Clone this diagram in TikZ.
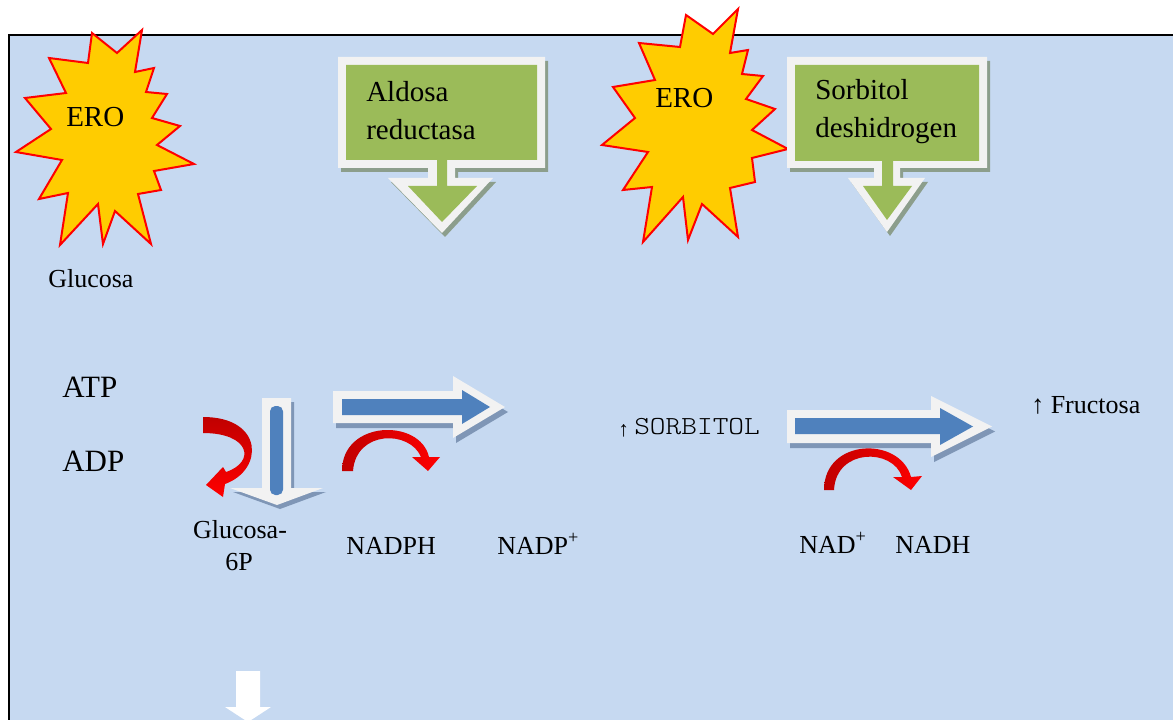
\documentclass[tikz,border=0pt]{standalone}
\usepackage{fontspec}
\setmainfont{Liberation Serif}
\newfontfamily\courfont{lmmonolt10-regular.otf}[FakeStretch=1.15]
\definecolor{bg}{HTML}{C6D9F1}
\definecolor{starfill}{HTML}{FFCC00}
\definecolor{calgreen}{HTML}{9BBB59}
\definecolor{calwhite}{HTML}{F2F2F2}
\definecolor{calshadow}{HTML}{8C9E8C}
\definecolor{arrblue}{HTML}{4F81BD}
\definecolor{arrshadow}{HTML}{7F96B6}
\definecolor{darkred}{HTML}{C00000}
\tikzset{
  starshape/.style={fill=starfill, draw=red, line width=1.5pt, line join=miter},
  lbl/.style={inner sep=0pt, anchor=base west, font=\fontsize{19.5}{23}\selectfont},
  lblc/.style={inner sep=0pt, anchor=base, font=\fontsize{19.5}{23}\selectfont},
  biglbl/.style={inner sep=0pt, anchor=base west, font=\fontsize{21.75}{26}\selectfont},
  huge lbl/.style={inner sep=0pt, anchor=base west, font=\fontsize{23.25}{28}\selectfont},
  redarrow/.style={left color=darkred, right color=red},
}
\begin{document}
\begin{tikzpicture}[x=0.75pt,y=-0.75pt]
\useasboundingbox (0,0) rectangle (1173,720);
\clip (0,0) rectangle (1173,720);
% frame
\draw[fill=bg, draw=black, line width=1.6pt] (9,35) rectangle (1190,740);

% stars
\draw[starshape] (92,33) -- (117,53) -- (142,30) -- (135,72) -- (154,68) -- (146,92) -- (167,94) -- (152,118) -- (180,126) -- (157,145) -- (194,164) -- (154,171) -- (161,190) -- (138,194) -- (151,244) -- (115,211) -- (103,244) -- (98,204) -- (60,245) -- (68,193) -- (39,199) -- (62,160) -- (16,152) -- (51,129) -- (25,98) -- (66,93) -- (49,58) -- (88,63) -- cycle;
\draw[starshape] (686,15) -- (713,34) -- (738,9) -- (730,53) -- (748,50) -- (742,74) -- (763,76) -- (746,99) -- (775,109) -- (752,130) -- (788,149) -- (752,158) -- (755,182) -- (730,188) -- (738,237) -- (702,204) -- (688,240) -- (683,197) -- (643,242) -- (652,187) -- (623,190) -- (648,152) -- (602,145) -- (635,118) -- (613,87) -- (655,80) -- (639,43) -- (680,47) -- cycle;
\node[biglbl] (ero1) at (66,127) {ERO};
\node[biglbl] (ero2) at (655,108) {ERO};

% callouts
\def\wone{(338,57) -- (545,57) -- (545,168) -- (455,168) -- (455,178) -- (493,178) -- (442,233) -- (388,178) -- (428,178) -- (428,168) -- (338,168) -- cycle}
\def\wtwo{(787,57) -- (987,57) -- (987,168) -- (900,168) -- (900,178) -- (925,178) -- (887,232) -- (848,178) -- (874,178) -- (874,168) -- (787,168) -- cycle}
\fill[calshadow, shift={(3,4)}] \wone;
\fill[calwhite] \wone;
\fill[calgreen] (346,65) -- (537,65) -- (537,160) -- (447,160) -- (447,186) -- (477,186) -- (442,222) -- (408,186) -- (437,186) -- (437,160) -- (346,160) -- cycle;
\fill[calshadow, shift={(3,4)}] \wtwo;
\fill[calwhite] \wtwo;
\fill[calgreen] (795,65) -- (979,65) -- (979,161) -- (893,161) -- (893,186) -- (912,186) -- (887,220) -- (863,186) -- (882,186) -- (882,161) -- (795,161) -- cycle;
\node[biglbl] (ald1) at (366,102) {Aldosa};
\node[biglbl] (ald2) at (366,140) {reductasa};
\node[biglbl] (sor1) at (815,100) {Sorbitol};
\node[biglbl] (sor2) at (815,138) {deshidrogen};

% blue block arrows
\def\hone{(333,391) -- (453,391) -- (453,376) -- (505,407) -- (453,438) -- (453,423) -- (333,423) -- cycle}
\def\htwo{(787,410) -- (931,410) -- (931,396) -- (992,426.5) -- (931,457) -- (931,443) -- (787,443) -- cycle}
\def\vone{(262,398) -- (291,398) -- (291,488) -- (323,488) -- (277,505) -- (230,488) -- (262,488) -- cycle}
\fill[arrshadow, shift={(3,5)}] \hone;
\fill[calwhite] \hone;
\fill[arrblue] (342,399) -- (462,399) -- (462,390) -- (490,407) -- (462,424) -- (462,415) -- (342,415) -- cycle;
\fill[arrshadow, shift={(3,5)}] \htwo;
\fill[calwhite] \htwo;
\fill[arrblue] (795,418) -- (940,418) -- (940,408) -- (973,426.5) -- (940,445) -- (940,434) -- (795,434) -- cycle;
\fill[arrshadow, shift={(3,4)}] \vone;
\fill[calwhite] \vone;
\fill[arrblue, rounded corners=4pt] (270,406) rectangle (283,495);
% bottom arrow
\fill[white] (236,671) -- (260,671) -- (260,707) -- (271,707) -- (248,722) -- (225,707) -- (236,707) -- cycle;

% red curved arrows
\shade[top color=darkred, bottom color=red] (203,417) .. controls (264,417) and (264,470) .. (225,484) -- (223,497) -- (206,485) -- (223,467) -- (226,472) .. controls (256,462) and (250,433) .. (203,433) -- cycle;
\shade[redarrow] (342,471) .. controls (342,420) and (420,418) .. (429,457) -- (440,457) -- (428,471) -- (412,457) -- (421,457) .. controls (410,430) and (356,430) .. (353,471) -- cycle;
\shade[redarrow] (824,490) .. controls (824,438) and (900,436) .. (911,477) -- (922,476) -- (911,490) -- (893,477) -- (902,477) .. controls (893,448) and (836,448) .. (834,490) -- cycle;

% labels
\node[lbl] (gluc) at (48,287) {Glucosa};
\node[huge lbl] (atp) at (62,397) {ATP};
\node[huge lbl] (adp) at (62,471) {ADP};
\node[lblc] (g6a) at (240,538) {Glucosa-};
\node[lblc] (g6b) at (239,570) {6P};
\node[lbl] (nadph) at (346,554) {NADPH};
\node[lbl] (nadp) at (497,554) {NADP\textsuperscript{+}};
\node[inner sep=0pt, anchor=base west, font=\fontsize{16}{18}\selectfont] (sarr) at (618,436) {↑};
\node[inner sep=0pt, anchor=base west, font=\courfont\fontsize{19.5}{23}\selectfont] (sorb) at (634,434) {SORBITOL};
\node[lbl] (fruc) at (1031,413) {↑ Fructosa};
\node[lbl] (nad) at (799,553) {NAD\textsuperscript{+}};
\node[lbl] (nadh) at (895,553) {NADH};
\end{tikzpicture}
\end{document}
